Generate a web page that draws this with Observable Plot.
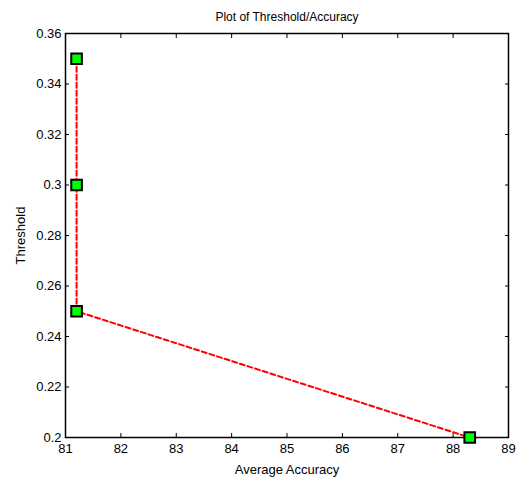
<!DOCTYPE html>
<html><head>
<meta charset="utf-8">
<script src="https://cdn.jsdelivr.net/npm/d3@7"></script>
<script src="https://cdn.jsdelivr.net/npm/@observablehq/plot@0.6"></script>
<style>body{margin:0;background:#fff;} svg{display:block;}</style>
</head><body><div id="chart"></div>
<script>
const accuracy = [81.2, 81.2, 81.2, 88.3];
const threshold = [0.35, 0.30, 0.25, 0.20];
const xTicks = [81, 82, 83, 84, 85, 86, 87, 88, 89];
const yTicks = [0.2, 0.22, 0.24, 0.26, 0.28, 0.3, 0.32, 0.34, 0.36];
const title = "Plot of Threshold/Accuracy";
const xLabel = "Average Accuracy";
const yLabel = "Threshold";

const data = accuracy.map((a, i) => ({accuracy: a, threshold: threshold[i]}));
const fmt = d => String(+d.toFixed(2));

const chart = Plot.plot({
  width: 516,
  height: 479,
  marginTop: 33,
  marginBottom: 42,
  marginLeft: 65,
  marginRight: 8,
  style: {fontFamily: "'Liberation Sans', Arial, sans-serif", fontSize: "12px", color: "black", background: "white"},
  x: {domain: [81, 89]},
  y: {domain: [0.2, 0.36]},
  marks: [
    Plot.axisX(xTicks, {anchor: "bottom", tickSize: -4, tickPadding: 10, fontSize: 13, label: xLabel, labelAnchor: "center", labelArrow: "none", labelOffset: 36}),
    Plot.axisX(xTicks, {anchor: "top", tickSize: -4, text: null, label: null}),
    Plot.axisY(yTicks, {anchor: "left", tickSize: -4, tickPadding: 8, tickFormat: fmt, fontSize: 13, label: yLabel, labelAnchor: "center", labelArrow: "none", labelOffset: 50}),
    Plot.axisY(yTicks, {anchor: "right", tickSize: -4, text: null, label: null}),
    Plot.frame({stroke: "black", strokeWidth: 1.5}),
    Plot.line(data, {x: "accuracy", y: "threshold", stroke: "#ff0000", strokeWidth: 2, strokeDasharray: "5,3"}),
    Plot.dot(data, {x: "accuracy", y: "threshold", symbol: "square", r: 6, fill: "#00ff00", stroke: "black", strokeWidth: 2}),
    Plot.text([title], {frameAnchor: "top", dy: -21, fontSize: 12, fill: "black"})
  ]
});
document.getElementById("chart").append(chart);
</script>
</body></html>
